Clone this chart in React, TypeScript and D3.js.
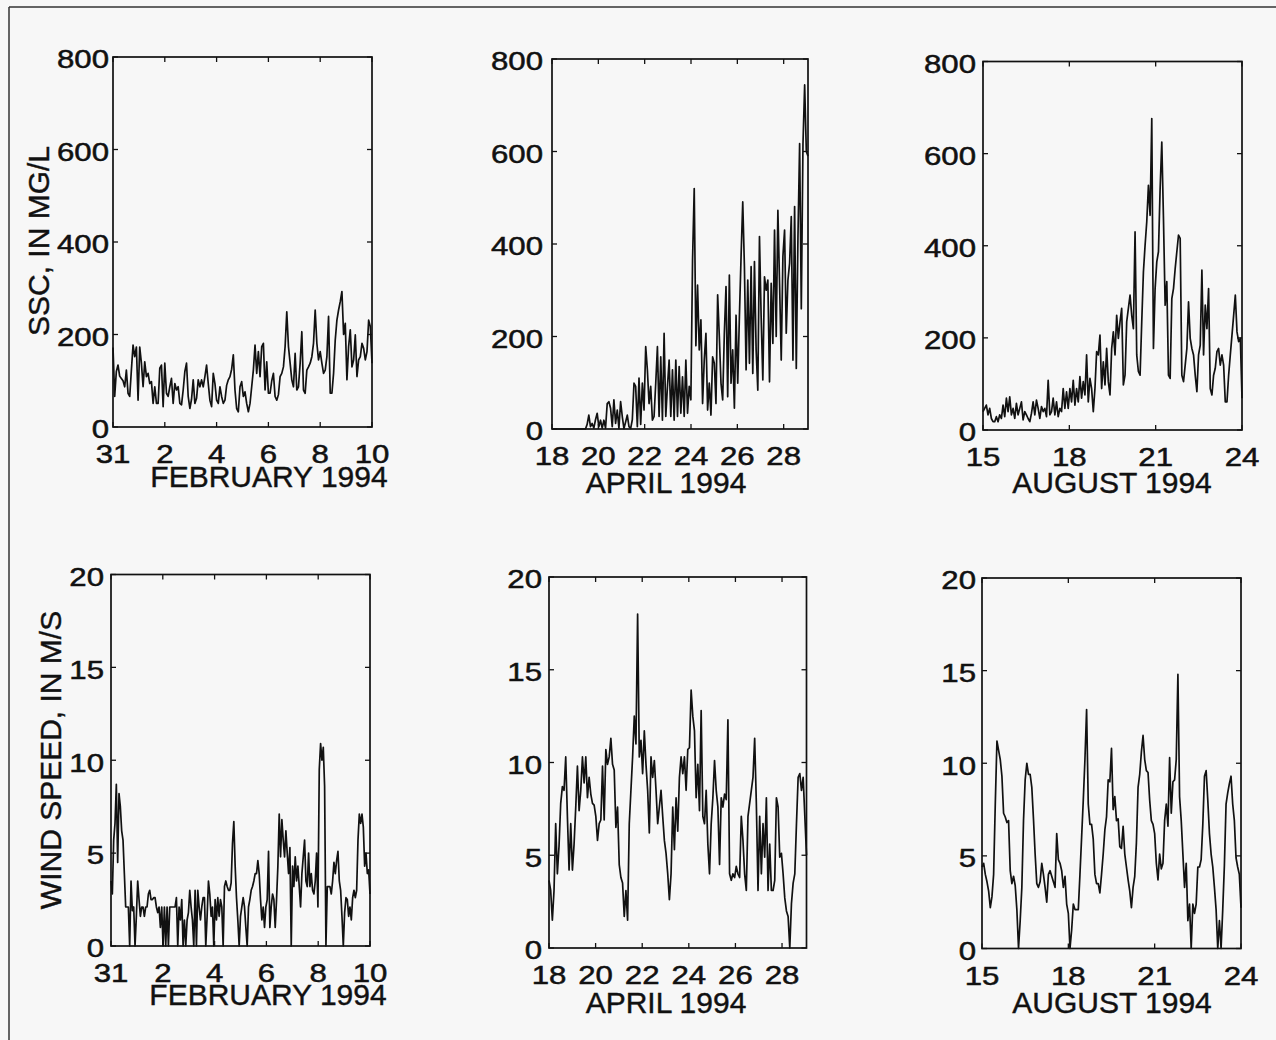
import React from 'react';
import * as d3 from 'd3';

// ---------- DATA ----------
// Suspended-sediment concentration, mg/L (evenly spaced samples across each window)
const sscFeb = [172,66,120,134,110,105,100,87,123,73,66,123,177,152,173,58,173,138,87,141,109,116,94,98,51,87,51,51,127,134,44,138,73,66,87,105,51,94,80,87,51,48,80,120,138,66,40,60,102,51,62,102,87,102,87,109,134,94,58,44,116,94,58,51,87,66,51,58,90,102,109,125,156,80,40,33,87,98,66,76,51,33,51,87,123,177,116,163,109,174,181,80,141,73,73,100,116,66,58,70,109,116,130,174,249,174,138,102,87,159,80,87,138,206,80,73,123,130,138,152,181,253,181,145,163,138,116,123,152,239,73,73,116,188,231,253,271,293,200,224,102,174,210,130,145,199,109,145,152,181,170,145,163,231,217,138];

const sscApr = [0,0,0,0,0,0,0,0,0,0,0,0,0,0,0,0,0,0,0,0,0,
  10,30,5,12,2,20,34,5,19,2,
  19,2,55,59,45,5,63,12,41,1,
  59,27,1,15,30,5,1,20,99,92,
  5,110,10,99,41,178,128,55,92,19,
  27,99,178,27,156,19,207,27,92,149,
  27,128,19,149,27,135,34,113,27,149,
  34,92,63,365,520,180,311,171,236,55,
  149,207,41,99,30,156,142,55,290,200,
  99,63,207,308,70,333,99,171,45,246,
  99,243,373,491,351,128,322,142,351,120,
  362,171,84,416,243,106,329,300,322,102,
  315,185,430,200,473,315,149,373,430,207,
  322,358,459,149,481,131,416,617,260,617,
  744,600,590];

const sscAug = [40,47,54,33,47,25,18,18,29,18,
  33,25,54,29,69,40,72,33,47,25,
  58,33,47,61,22,40,33,25,18,36,
  61,33,65,47,25,51,40,47,29,108,
  33,40,69,33,61,29,47,40,90,47,
  83,47,90,61,108,54,90,61,116,69,
  105,76,163,61,112,90,40,90,170,163,
  206,90,148,98,177,105,76,177,213,163,
  249,199,235,264,98,119,235,264,293,249,
  220,430,163,127,119,235,343,401,452,531,
  466,676,177,307,365,387,524,625,459,271,
  322,119,112,285,307,350,387,423,416,119,
  105,141,177,278,199,177,163,119,83,163,
  184,347,163,271,220,307,90,76,119,134,
  170,177,141,163,141,61,61,119,163,206,
  249,293,213,192,199,69];

// Wind speed, m/s
const windFeb = [3.5,2.8,5.7,6.6,8.7,4.5,8.2,7.5,6.2,5.7,
  3.9,2.1,2.1,2.1,0,3.5,1.9,2.1,0,1.6,
  3.5,2.5,1.6,2.1,2.1,1.6,2.1,2.1,2.8,3.0,
  2.5,2.5,2.6,2.6,2.1,1.8,2.1,1.0,2.1,0,
  2.1,0,2.1,0,2.1,2.1,2.1,2.1,2.1,2.6,
  0,2.1,1.4,2.5,0,1.4,0,1.4,1.8,3.0,
  2.1,1.4,0,3.0,0,3.0,2.1,1.4,2.1,2.6,
  2.6,0,1.6,3.5,2.8,1.6,2.1,0,2.5,1.4,
  2.6,1.6,2.5,2.1,0,3.2,3.5,3.2,3.0,3.0,
  3.4,5.5,6.7,4.3,2.6,1.4,0,1.6,2.1,2.6,
  2.1,1.0,0,2.1,2.5,3.0,3.2,3.5,3.9,3.9,
  4.6,3.9,2.5,1.4,2.1,1.0,2.1,2.5,5.1,1.0,
  2.1,2.8,2.5,1.0,2.5,4.3,7.1,4.8,6.8,5.7,
  4.8,6.2,5.0,3.9,5.3,0,4.3,3.2,4.8,3.5,
  4.3,3.2,2.1,3.9,4.8,5.7,3.5,3.2,5.0,3.2,
  3.9,3.0,2.8,3.5,5.0,2.1,9.5,10.9,10.0,10.7,
  8.6,0,3.2,3.2,3.2,2.8,3.5,4.5,3.9,4.6,
  5.1,3.5,3.0,1.6,0,1.8,2.6,2.5,1.6,2.1,
  1.4,2.6,3.0,2.6,3.0,5.7,7.1,6.6,7.1,6.4,
  4.3,5.0,3.9,4.1,2.8];

const windApr = [3.65,3.1,1.5,3.1,6.7,4.0,5.5,7.8,8.7,8.5,
  10.3,7.1,4.2,6.7,4.2,5.6,7.6,9.8,7.4,8.5,
  10.3,8.9,10.3,8.1,9.2,8.3,7.8,7.7,7.1,5.8,
  6.7,6.9,9.8,6.9,10.7,9.9,10.3,11.3,9.9,9.6,
  6.5,7.6,4.5,3.8,3.5,1.7,3.1,1.5,6.7,8.5,
  10.3,12.5,11.0,18.0,10.3,11.2,9.4,11.7,9.9,8.5,
  6.2,10.3,9.2,10.1,8.5,6.7,7.6,8.5,7.1,5.8,
  5.1,4.0,2.6,4.0,7.6,5.3,8.1,6.3,9.2,10.3,
  9.4,10.3,8.5,10.7,10.8,13.9,12.5,11.7,8.1,9.9,
  7.4,12.8,7.1,6.7,8.5,5.6,4.0,6.7,8.1,10.1,
  8.5,7.6,4.5,8.1,7.6,8.3,8.0,12.3,4.0,3.65,
  4.0,3.8,4.4,4.0,3.8,7.1,5.8,4.0,3.1,7.1,
  7.8,8.5,9.2,11.3,7.8,3.1,7.1,4.0,6.7,4.9,
  8.1,3.1,5.6,3.1,3.1,3.65,8.1,7.6,4.9,5.1,
  4.0,2.7,2.0,1.7,0,2.4,3.5,4.0,6.7,9.2,
  9.4,8.5,9.2,7.1,5.0];

const windAug = [4.4,4.6,4.0,3.6,3.1,2.2,2.8,4.0,7.8,11.2,
  10.7,10.2,9.3,7.3,7.1,6.8,6.9,4.2,3.5,3.9,
  3.4,2.1,0,1.5,3.3,6.9,9.1,10.0,9.4,9.4,
  8.7,7.0,5.1,3.5,3.3,3.6,4.6,4.0,3.3,2.5,
  4.0,4.2,3.9,3.6,3.3,6.2,4.8,4.6,4.2,3.3,
  3.9,2.4,1.9,0,1.0,2.4,2.1,2.1,2.1,4.0,
  6.0,8.0,10.2,12.9,7.8,6.7,6.7,5.9,4.0,3.5,
  3.5,3.0,4.0,5.1,6.4,7.1,9.1,9.0,10.8,7.5,
  8.2,6.9,7.0,5.5,5.4,6.6,5.1,4.4,3.7,3.1,
  2.2,3.3,3.9,5.7,8.7,9.4,10.6,11.5,10.2,9.6,
  9.5,8.0,6.9,6.7,6.2,4.6,3.7,5.1,4.3,4.6,
  6.9,7.8,6.6,10.3,7.3,9.0,9.1,10.2,14.8,8.2,
  6.9,5.1,3.3,4.6,1.5,2.4,0,2.4,1.9,2.4,
  4.4,4.4,4.8,6.7,9.3,9.6,8.0,6.2,5.1,4.4,
  3.3,2.1,0,1.5,0,2.1,4.5,7.8,8.4,8.9,
  9.3,7.8,6.9,4.9,4.4,4.0,2.2];

// Axis ticks and labels
const febTicks = [0, 2, 4, 6, 8, 10];
const febTickLabels = ['31', '2', '4', '6', '8', '10'];
const aprTicks = [18, 20, 22, 24, 26, 28];
const aprTickLabels = ['18', '20', '22', '24', '26', '28'];
const augTicks = [15, 18, 21, 24];
const augTickLabels = ['15', '18', '21', '24'];
const sscTicks = [0, 200, 400, 600, 800];
const windTicks = [0, 5, 10, 15, 20];

// Time windows (day numbers; February counted from 31 January = 0)
const febWindow = [0, 10];
const aprWindow = [18, 29.05];
const augWindow = [15, 24];

const panels = [
  { values: sscFeb, win: febWindow, xt: febTicks, xl: febTickLabels, yd: [0, 800], yt: sscTicks,
    box: [113, 57, 372, 427], title: 'FEBRUARY 1994', tx: 269, ty: 487, gap: 4 },
  { values: sscApr, win: aprWindow, xt: aprTicks, xl: aprTickLabels, yd: [0, 800], yt: sscTicks,
    box: [552, 59, 808, 429], title: 'APRIL 1994', tx: 666, ty: 493, gap: 9 },
  { values: sscAug, win: augWindow, xt: augTicks, xl: augTickLabels, yd: [0, 800], yt: sscTicks,
    box: [983, 61.5, 1242, 430], title: 'AUGUST 1994', tx: 1112, ty: 493, gap: 7 },
  { values: windFeb, win: febWindow, xt: febTicks, xl: febTickLabels, yd: [0, 20], yt: windTicks,
    box: [111, 574.5, 370, 946], title: 'FEBRUARY 1994', tx: 268, ty: 1005, gap: 7 },
  { values: windApr, win: aprWindow, xt: aprTicks, xl: aprTickLabels, yd: [0, 20], yt: windTicks,
    box: [549, 577, 806.5, 948], title: 'APRIL 1994', tx: 666, ty: 1013, gap: 7 },
  { values: windAug, win: augWindow, xt: augTicks, xl: augTickLabels, yd: [0, 20], yt: windTicks,
    box: [982, 578, 1241, 948.5], title: 'AUGUST 1994', tx: 1112, ty: 1013, gap: 6 },
];

const FONT = '"Liberation Sans", Arial, Helvetica, sans-serif';
const INK = '#111111';

function Panel({ p }: { p: any }) {
  const [l, t, r, b] = p.box;
  const x = d3.scaleLinear().domain(p.win).range([l, r]);
  const y = d3.scaleLinear().domain(p.yd).range([b, t]);
  const n = p.values.length;
  const time = d3.scaleLinear().domain([0, n - 1]).range(p.win);
  const line = d3.line<number>().x((_, i) => x(time(i))).y((v) => y(v));
  const tl = 5;
  return (
    <g>
      <path d={line(p.values) || ''} fill="none" stroke={INK} strokeWidth={1.7} strokeLinejoin="round" />
      <rect x={l} y={t} width={r - l} height={b - t} fill="none" stroke={INK} strokeWidth={1.7} />
      {p.xt.map((v: number, i: number) => (
        <g key={'x' + i}>
          <line x1={x(v)} x2={x(v)} y1={b} y2={b - tl} stroke={INK} strokeWidth={1.3} />
          <line x1={x(v)} x2={x(v)} y1={t} y2={t + tl} stroke={INK} strokeWidth={1.3} />
          <text transform={`translate(${x(v)},${b + 36}) scale(1.2,1)`} textAnchor="middle"
            fontFamily={FONT} fontSize={26} fill={INK} stroke={INK} strokeWidth={0.5}>{p.xl[i]}</text>
        </g>
      ))}
      {p.yt.map((v: number, i: number) => (
        <g key={'y' + i}>
          <line x1={l} x2={l + tl} y1={y(v)} y2={y(v)} stroke={INK} strokeWidth={1.3} />
          <line x1={r} x2={r - tl} y1={y(v)} y2={y(v)} stroke={INK} strokeWidth={1.3} />
          <text transform={`translate(${l - p.gap},${y(v) + 11.3}) scale(1.2,1)`} textAnchor="end"
            fontFamily={FONT} fontSize={26} fill={INK} stroke={INK} strokeWidth={0.5}>{String(v)}</text>
        </g>
      ))}
      <text x={p.tx} y={p.ty} textAnchor="middle" fontFamily={FONT} fontSize={30} fill={INK}
        stroke={INK} strokeWidth={0.4}>{p.title}</text>
    </g>
  );
}

export default function App() {
  return (
    <svg width={1276} height={1040} style={{ position: 'absolute', left: 0, top: 0, background: '#f7f7f7' }}>
      <rect x={0} y={0} width={1276} height={1040} fill="#f7f7f7" />
      <line x1={9} x2={1276} y1={7} y2={7} stroke="#333" strokeWidth={1.5} />
      <line x1={9} x2={9} y1={7} y2={1040} stroke="#333" strokeWidth={1.5} />
      {panels.map((p, i) => <Panel key={i} p={p} />)}
      <text transform="translate(49,241) rotate(-90)" textAnchor="middle" fontFamily={FONT} fontSize={30}
        fill={INK} stroke={INK} strokeWidth={0.4}>SSC, IN MG/L</text>
      <text transform="translate(61,760) rotate(-90)" textAnchor="middle" fontFamily={FONT} fontSize={30}
        fill={INK} stroke={INK} strokeWidth={0.4}>WIND SPEED, IN M/S</text>
    </svg>
  );
}
